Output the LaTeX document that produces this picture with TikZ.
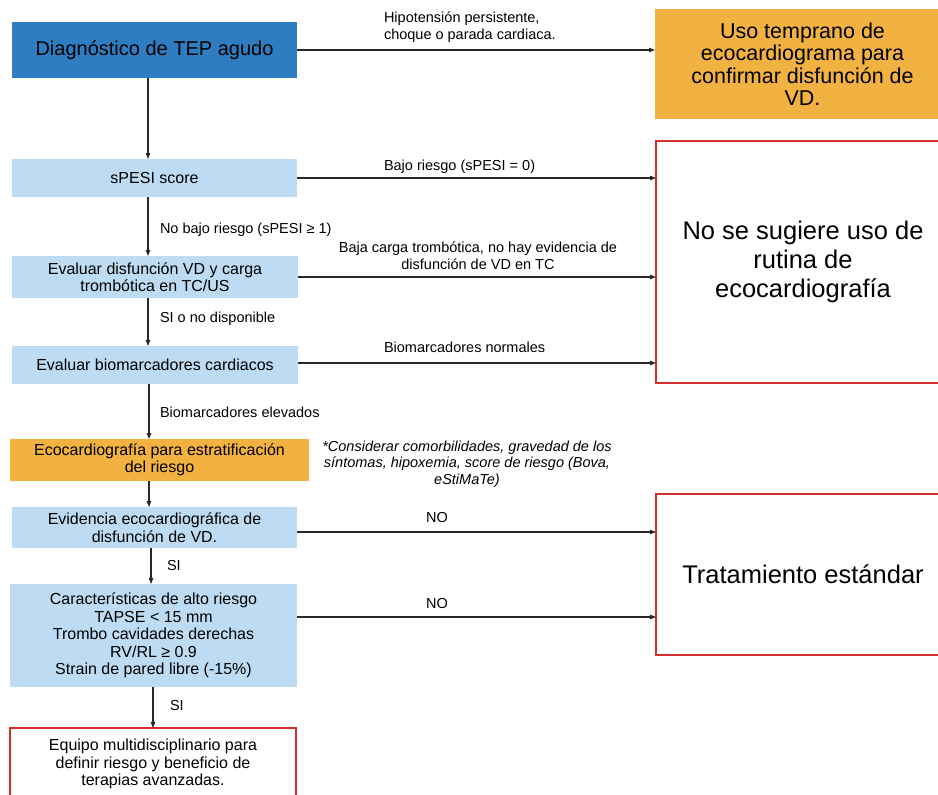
\documentclass[tikz,border=0pt]{standalone}
\usepackage{fontspec}
\setmainfont{Liberation Sans}
\usetikzlibrary{arrows.meta}
\definecolor{diagBlue}{RGB}{46,125,194}
\definecolor{stepBlue}{RGB}{189,220,243}
\definecolor{ecoOrange}{RGB}{242,178,66}
\definecolor{outRed}{RGB}{212,45,45}
\definecolor{lineGray}{RGB}{40,40,40}
\tikzset{
  boxbase/.style={inner sep=0pt, outer sep=0pt, align=center, text=black},
  topbox/.style={boxbase, fill=diagBlue, font=\fontsize{20}{24}\selectfont},
  stepbox/.style={boxbase, fill=stepBlue, font=\fontsize{16}{17.5}\selectfont},
  ecobox/.style={boxbase, fill=ecoOrange, font=\fontsize{16}{17.5}\selectfont},
  endbox/.style={boxbase, draw=outRed, line width=1.5pt, fill=white},
  lbl/.style={inner sep=0pt, outer sep=0pt, text=black, font=\fontsize{14.5}{17}\selectfont},
  arr/.style={draw=lineGray, line width=1.1pt, -{Triangle[length=6pt,width=4.5pt]}}
}
\begin{document}
\begin{tikzpicture}[x=1pt,y=-1pt]
\useasboundingbox[fill=white] (0,0) rectangle (938,795);

% main column
\node[topbox, minimum width=285pt, minimum height=56pt] (diag) at (154.5,50) {Diagnóstico de TEP agudo};
\node[stepbox, minimum width=285pt, minimum height=38pt] (spesi) at (154.5,178) {sPESI score};
\node[stepbox, minimum width=286pt, minimum height=42pt] (evaldisf) at (155,277) {Evaluar disfunción VD y carga\\trombótica en TC/US};
\node[stepbox, minimum width=286pt, minimum height=38pt] (biom) at (155,365) {Evaluar biomarcadores cardiacos};
\node[ecobox, minimum width=299pt, minimum height=42pt] (ecoest) at (159.5,460) {Ecocardiografía para estratificación\\del riesgo};
\node[stepbox, minimum width=285pt, minimum height=41pt] (evid) at (154.5,527.5) {Evidencia ecocardiográfica de\\disfunción de VD.};
\node[stepbox, minimum width=287pt, minimum height=103pt] (caract) at (153.5,635.5) {Características de alto riesgo\\TAPSE < 15 mm\\Trombo cavidades derechas\\RV/RL ≥ 0.9\\Strain de pared libre (-15\%)};
\node[endbox, minimum width=286pt, minimum height=72pt, font=\fontsize{16}{17.5}\selectfont] (equipo) at (153,764) {Equipo multidisciplinario para\\definir riesgo y beneficio de\\terapias avanzadas.};

% right column
\node[ecobox, minimum width=295pt, minimum height=110pt, font=\fontsize{21.5}{22.5}\selectfont] (uso) at (802.5,64) {Uso temprano de\\ecocardiograma para\\confirmar disfunción de\\VD.};
\node[endbox, minimum width=294pt, minimum height=242pt, font=\fontsize{25.5}{29}\selectfont] (nosug) at (803,262) {No se sugiere uso de\\rutina de\\ecocardiografía};
\node[endbox, minimum width=294pt, minimum height=161pt, font=\fontsize{25.5}{29}\selectfont] (trat) at (803,574.5) {Tratamiento estándar};

% note
\node[lbl, align=center, font=\fontsize{14.5}{16.5}\selectfont\itshape] (nota) at (467,464) {*Considerar comorbilidades, gravedad de los\\síntomas, hipoxemia, score de riesgo (Bova,\\eStiMaTe)};

% vertical connectors
\draw[arr] ([xshift=-6.5pt]diag.south) -- ([xshift=-6.5pt]spesi.north);
\draw[arr] ([xshift=-6.5pt]spesi.south) -- ([xshift=-7pt]evaldisf.north);
\draw[arr] ([xshift=-7pt]evaldisf.south) -- ([xshift=-7pt]biom.north);
\draw[arr] ([xshift=-6pt]biom.south) -- ([xshift=-10.5pt]ecoest.north);
\draw[arr] ([xshift=-10.5pt]ecoest.south) -- ([xshift=-5.5pt]evid.north);
\draw[arr] ([xshift=-3.5pt]evid.south) -- ([xshift=-2.5pt]caract.north);
\draw[arr] ([xshift=-0.5pt]caract.south) -- (equipo.north);

\node[lbl, anchor=west] (l1) at (160,230) {No bajo riesgo (sPESI ≥ 1)};
\node[lbl, anchor=west] (l2) at (160,319) {SI o no disponible};
\node[lbl, anchor=west] (l3) at (160,412) {Biomarcadores elevados};
\node[lbl, anchor=west] (l4) at (167,566) {SI};
\node[lbl, anchor=west] (l5) at (170,706) {SI};

% horizontal connectors
\coordinate (bm) at ([yshift=2pt]biom.east);
\coordinate (ev) at ([yshift=-4.5pt]evid.east);
\coordinate (ca) at ([yshift=18.5pt]caract.east);
\draw[arr] (diag.east) -- (diag.east -| uso.west);
\draw[arr] (spesi.east) -- (spesi.east -| nosug.west);
\draw[arr] (evaldisf.east) -- (evaldisf.east -| nosug.west);
\draw[arr] (bm) -- (bm -| nosug.west);
\draw[arr] (ev) -- (ev -| trat.west);
\draw[arr] (ca) -- (ca -| trat.west);

\node[lbl, anchor=west, align=left] (h1) at (384,27) {Hipotensión persistente,\\choque o parada cardiaca.};
\node[lbl, anchor=west] (h2) at (384,167) {Bajo riesgo (sPESI = 0)};
\node[lbl, align=center] (h3) at (478,255.5) {Baja carga trombótica, no hay evidencia de\\disfunción de VD en TC};
\node[lbl, anchor=west] (h4) at (384,347) {Biomarcadores normales};
\node[lbl] (h5) at (437,518) {NO};
\node[lbl] (h6) at (437,604) {NO};
\end{tikzpicture}
\end{document}
